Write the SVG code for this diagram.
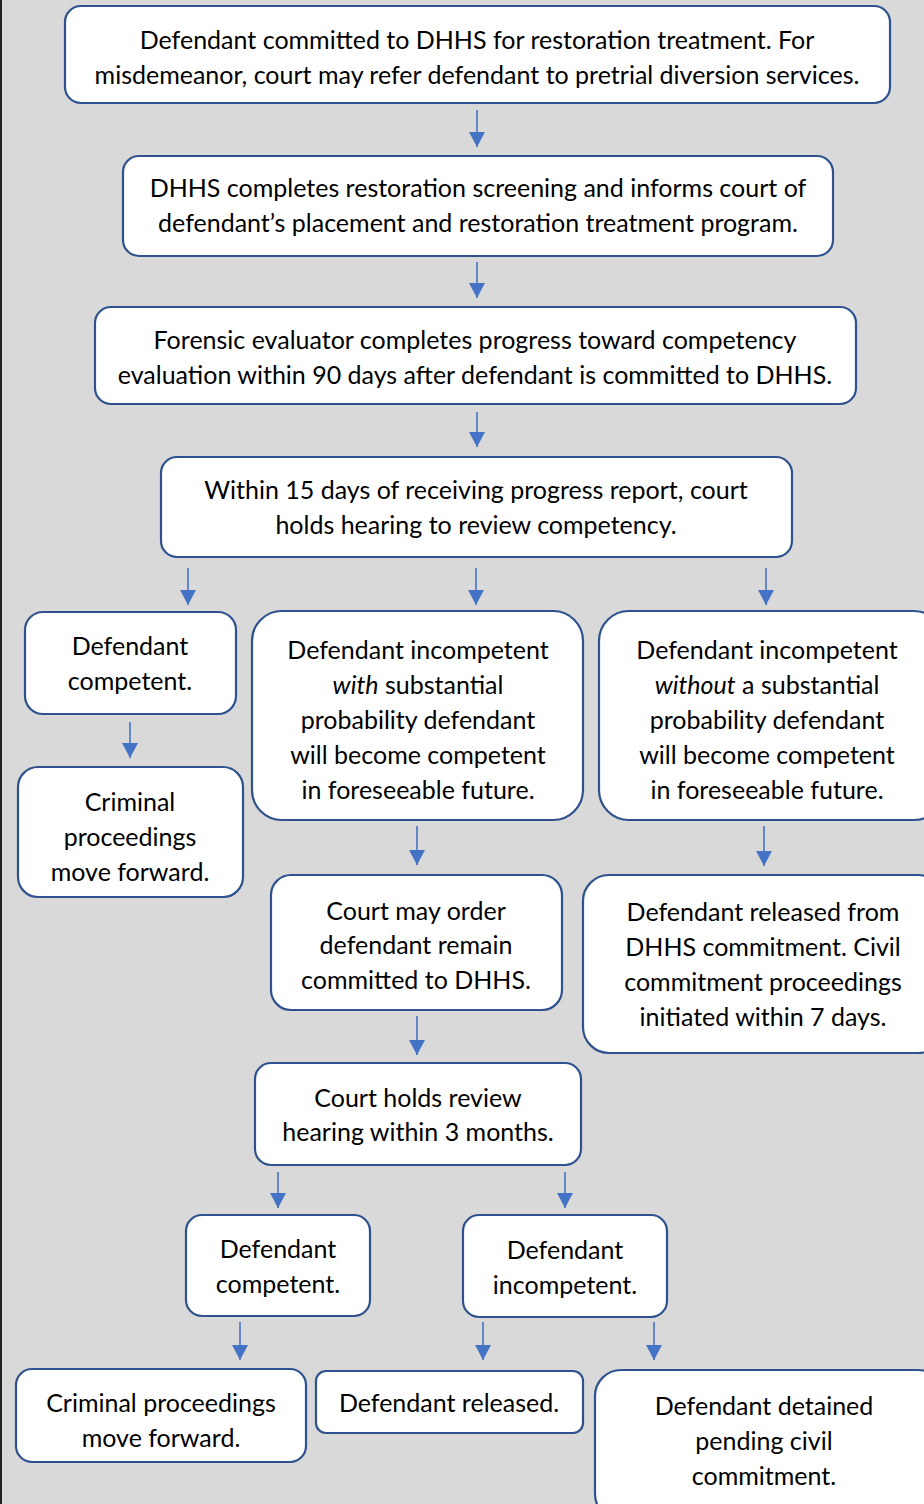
<svg xmlns="http://www.w3.org/2000/svg" width="924" height="1504" viewBox="0 0 924 1504">
<defs>
<marker id="ah" viewBox="0 0 15 16" refX="15" refY="8" markerWidth="15" markerHeight="16" markerUnits="userSpaceOnUse" orient="auto"><path d="M0,0 L15,8 L0,16 Z" fill="#4472c4"/></marker>
<style>
.b{fill:#fff;stroke:#2f528f;stroke-width:2.2}
.t{font-family:Lato,"Noto Sans",sans-serif;font-size:25px;fill:#000;text-anchor:middle}
.c line{stroke:#4472c4;stroke-width:1.6;marker-end:url(#ah)}
</style>
</defs>
<rect x="0" y="0" width="924" height="1504" fill="#d9d9d9"/>
<line x1="1" y1="0" x2="1" y2="1504" stroke="#222" stroke-width="2"/>
<g class="c">
<line x1="477" y1="110" x2="477" y2="147"/>
<line x1="477" y1="262" x2="477" y2="298"/>
<line x1="477" y1="412" x2="477" y2="447"/>
<line x1="188" y1="568" x2="188" y2="605"/>
<line x1="476" y1="568" x2="476" y2="605"/>
<line x1="766" y1="568" x2="766" y2="605"/>
<line x1="130" y1="722" x2="130" y2="758"/>
<line x1="417" y1="826" x2="417" y2="865"/>
<line x1="764" y1="826" x2="764" y2="866"/>
<line x1="417" y1="1016" x2="417" y2="1055"/>
<line x1="278" y1="1172" x2="278" y2="1208"/>
<line x1="565" y1="1172" x2="565" y2="1208"/>
<line x1="240" y1="1322" x2="240" y2="1360"/>
<line x1="483" y1="1322" x2="483" y2="1360"/>
<line x1="654" y1="1322" x2="654" y2="1360"/>
</g>
<g id="n1"><rect class="b" x="65" y="6" width="825" height="97" rx="16"/>
<text class="t" x="477" y="49">Defendant committed to DHHS for restoration treatment. For</text>
<text class="t" x="477" y="84">misdemeanor, court may refer defendant to pretrial diversion services.</text></g>
<g id="n2"><rect class="b" x="123" y="156" width="710" height="100" rx="16"/>
<text class="t" x="478" y="197">DHHS completes restoration screening and informs court of</text>
<text class="t" x="478" y="232">defendant’s placement and restoration treatment program.</text></g>
<g id="n3"><rect class="b" x="95" y="307" width="761" height="97" rx="16"/>
<text class="t" x="475" y="349">Forensic evaluator completes progress toward competency</text>
<text class="t" x="475" y="384">evaluation within 90 days after defendant is committed to DHHS.</text></g>
<g id="n4"><rect class="b" x="161" y="457" width="631" height="100" rx="16"/>
<text class="t" x="476" y="499">Within 15 days of receiving progress report, court</text>
<text class="t" x="476" y="534">holds hearing to review competency.</text></g>
<g id="n5"><rect class="b" x="25" y="612" width="211" height="102" rx="18"/>
<text class="t" x="130" y="655">Defendant</text>
<text class="t" x="130" y="690">competent.</text></g>
<g id="n6"><rect class="b" x="252" y="611" width="331" height="209" rx="30"/>
<text class="t" x="418" y="659">Defendant incompetent</text>
<text class="t" x="418" y="694"><tspan font-style="italic">with</tspan> substantial</text>
<text class="t" x="418" y="729">probability defendant</text>
<text class="t" x="418" y="764">will become competent</text>
<text class="t" x="418" y="799">in foreseeable future.</text></g>
<g id="n7"><rect class="b" x="599" y="611" width="345" height="209" rx="30"/>
<text class="t" x="767" y="659">Defendant incompetent</text>
<text class="t" x="767" y="694"><tspan font-style="italic">without</tspan> a substantial</text>
<text class="t" x="767" y="729">probability defendant</text>
<text class="t" x="767" y="764">will become competent</text>
<text class="t" x="767" y="799">in foreseeable future.</text></g>
<g id="n8"><rect class="b" x="18" y="767" width="225" height="130" rx="20"/>
<text class="t" x="130" y="811">Criminal</text>
<text class="t" x="130" y="846">proceedings</text>
<text class="t" x="130" y="881">move forward.</text></g>
<g id="n9"><rect class="b" x="271" y="875" width="291" height="135" rx="20"/>
<text class="t" x="416" y="920">Court may order</text>
<text class="t" x="416" y="954">defendant remain</text>
<text class="t" x="416" y="989">committed to DHHS.</text></g>
<g id="n10"><rect class="b" x="583" y="875" width="361" height="178" rx="26"/>
<text class="t" x="763" y="921">Defendant released from</text>
<text class="t" x="763" y="956">DHHS commitment. Civil</text>
<text class="t" x="763" y="991">commitment proceedings</text>
<text class="t" x="763" y="1026">initiated within 7 days.</text></g>
<g id="n11"><rect class="b" x="255" y="1063" width="326" height="102" rx="16"/>
<text class="t" x="418" y="1107">Court holds review</text>
<text class="t" x="418" y="1141">hearing within 3 months.</text></g>
<g id="n12"><rect class="b" x="186" y="1215" width="184" height="101" rx="16"/>
<text class="t" x="278" y="1258">Defendant</text>
<text class="t" x="278" y="1293">competent.</text></g>
<g id="n13"><rect class="b" x="463" y="1215" width="204" height="102" rx="16"/>
<text class="t" x="565" y="1259">Defendant</text>
<text class="t" x="565" y="1294">incompetent.</text></g>
<g id="n14"><rect class="b" x="16" y="1369" width="290" height="93" rx="16"/>
<text class="t" x="161" y="1412">Criminal proceedings</text>
<text class="t" x="161" y="1447">move forward.</text></g>
<g id="n15"><rect class="b" x="316" y="1371" width="267" height="62" rx="10"/>
<text class="t" x="449" y="1412">Defendant released.</text></g>
<g id="n16"><rect class="b" x="595" y="1370" width="349" height="150" rx="26"/>
<text class="t" x="764" y="1415">Defendant detained</text>
<text class="t" x="764" y="1450">pending civil</text>
<text class="t" x="764" y="1485">commitment.</text></g>
</svg>
